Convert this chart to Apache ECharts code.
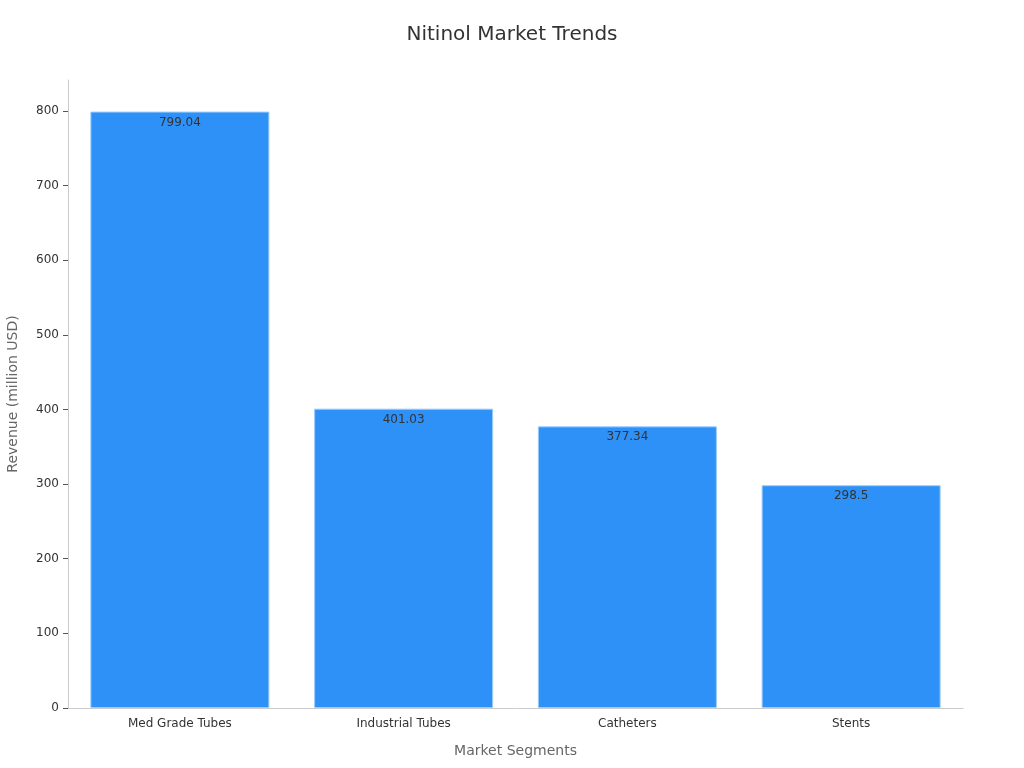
<!DOCTYPE html>
<html>
<head>
<meta charset="utf-8">
<script src="https://cdn.jsdelivr.net/npm/echarts@6/dist/echarts.min.js"></script>
<style>
  html, body { margin: 0; padding: 0; background: #fff; }
  #main { width: 1024px; height: 768px; }
</style>
</head>
<body>
<div id="main"></div>
<script>
// data
var segments = ['Med Grade Tubes', 'Industrial Tubes', 'Catheters', 'Stents'];
var revenue = [799.04, 401.03, 377.34, 298.5];

var myChart = echarts.init(document.getElementById('main'));

var option = {
    textStyle: { fontFamily: 'DejaVu Sans' },
    title: {
        text: 'Nitinol Market Trends',
        left: 'center',
        top: 20,
        textStyle: { fontSize: 20, fontWeight: 'normal', color: '#333' }
    },
    grid: { left: 68, right: 61, top: 80, bottom: 60, outerBoundsMode: 'none', containLabel: false },
    xAxis: {
        type: 'category',
        data: segments,
        name: 'Market Segments',
        nameLocation: 'middle',
        nameGap: 36,
        nameTextStyle: { fontSize: 14, color: '#666' },
        axisLine: { lineStyle: { color: '#ccc' } },
        axisTick: { alignWithLabel: true, length: 5, lineStyle: { color: '#555' } },
        axisLabel: { color: '#333', fontSize: 12, margin: 10 }
    },
    yAxis: {
        type: 'value',
        min: 0,
        max: function (v) { return v.max * 1.053; },
        interval: 100,
        name: 'Revenue (million USD)',
        nameLocation: 'middle',
        nameGap: 48,
        nameTextStyle: { fontSize: 14, color: '#666' },
        axisLine: { show: true, lineStyle: { color: '#ccc' } },
        axisTick: { show: true, length: 5, lineStyle: { color: '#555' } },
        axisLabel: { color: '#333', fontSize: 12, margin: 9, showMaxLabel: false },
        splitLine: { show: false }
    },
    series: [{
        type: 'bar',
        data: revenue,
        barCategoryGap: '20%',
        itemStyle: { color: '#2e91f8', borderColor: '#9ccbfb', borderWidth: 1 },
        label: {
            show: true,
            position: 'insideTop',
            color: '#333',
            fontSize: 12
        }
    }]
};

myChart.setOption(option);
</script>
</body>
</html>
